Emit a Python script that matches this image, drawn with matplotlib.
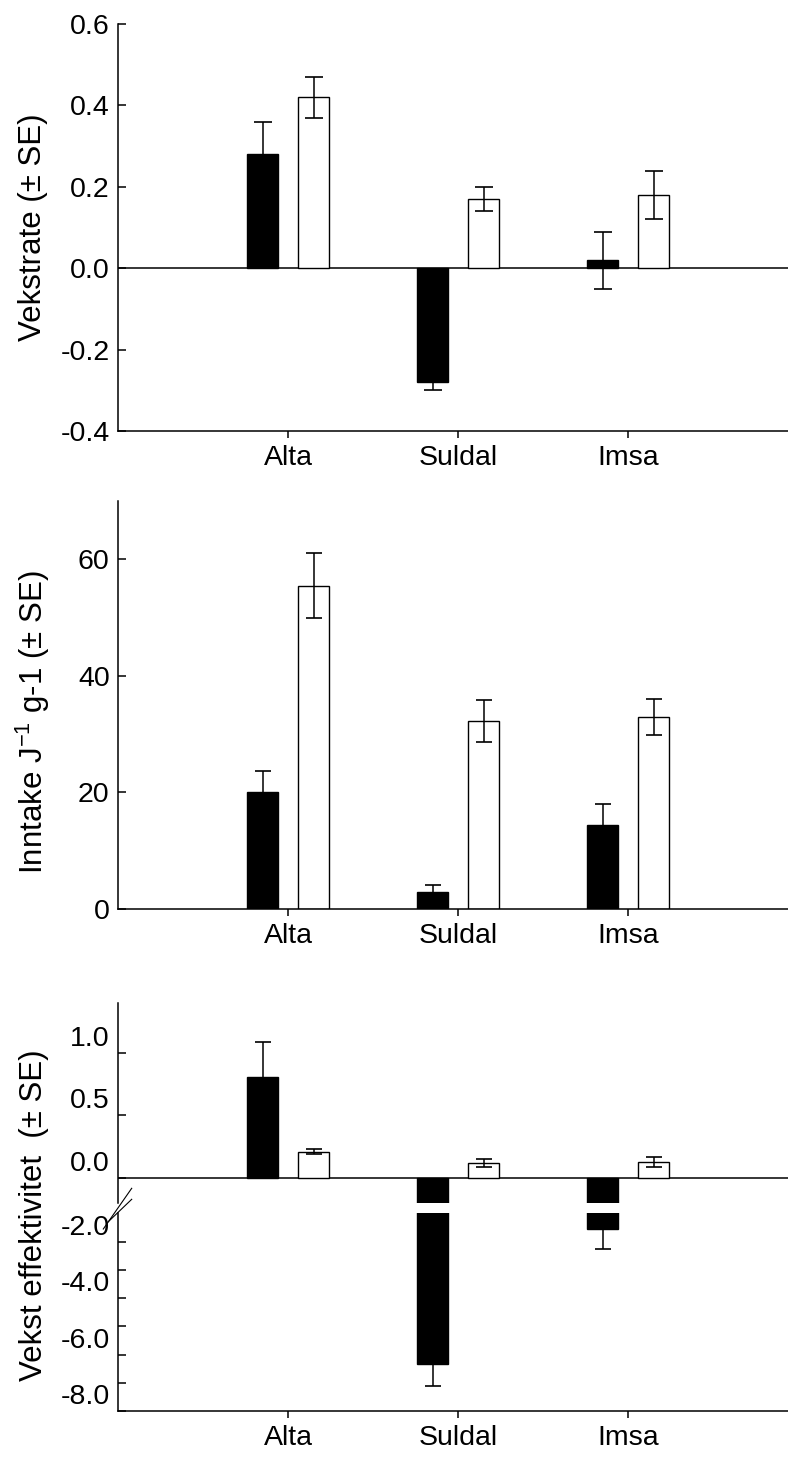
import numpy as np
import matplotlib
matplotlib.use('Agg')
import matplotlib.pyplot as plt
from matplotlib.transforms import ScaledTranslation
from matplotlib.lines import Line2D

plt.rcParams['font.family'] = ['Liberation Sans', 'DejaVu Sans']
plt.rcParams['mathtext.fontset'] = 'custom'
plt.rcParams['mathtext.rm'] = 'Liberation Sans'
plt.rcParams['mathtext.it'] = 'Liberation Sans:italic'
plt.rcParams['axes.unicode_minus'] = False

# Data
sites = ['Alta', 'Suldal', 'Imsa']

rate_black = [0.28, -0.28, 0.02]
rate_black_se = [0.08, 0.02, 0.07]
rate_white = [0.42, 0.17, 0.18]
rate_white_se = [0.05, 0.03, 0.06]

intake_black = [20.0, 3.0, 14.4]
intake_black_se = [3.7, 1.2, 3.7]
intake_white = [55.5, 32.2, 33.0]
intake_white_se = [5.5, 3.6, 3.1]

eff_black = [0.81, -6.35, -1.55]
eff_black_se = [0.28, 0.76, 0.73]
eff_white = [0.21, 0.12, 0.13]
eff_white_se = [0.02, 0.03, 0.04]

# Layout (pixels)
W, H = 788, 1459
fig = plt.figure(figsize=(W / 100, H / 100), dpi=100)


def px_axes(left, top, right, bottom):
    return fig.add_axes([left / W, 1 - bottom / H, (right - left) / W, (bottom - top) / H])


x = np.arange(1, len(sites) + 1)
off = 0.15
w = 0.18
TICK_FS = 20.5
LAB_FS = 22.5


def draw_bars(ax, black, black_se, white, white_se, capsize):
    ax.bar(x - off, black, w, color='black', edgecolor='black', linewidth=1, zorder=2)
    ax.bar(x + off, white, w, color='white', edgecolor='black', linewidth=1, zorder=2)
    ax.errorbar(x - off, black, yerr=black_se, fmt='none', ecolor='black',
                elinewidth=1.1, capsize=capsize, capthick=1.2, zorder=3)
    ax.errorbar(x + off, white, yerr=white_se, fmt='none', ecolor='black',
                elinewidth=1.1, capsize=capsize, capthick=1.2, zorder=3)


def style(ax, xlabels=True):
    for s in ['top', 'right']:
        ax.spines[s].set_visible(False)
    for s in ['left', 'bottom']:
        ax.spines[s].set_linewidth(1.1)
    ax.set_xlim(0, 4)
    ax.tick_params(axis='y', direction='in', length=6, width=1.1, pad=6, labelsize=TICK_FS)
    ax.tick_params(axis='x', direction='out', length=5, width=1.1, pad=5, labelsize=TICK_FS)
    if xlabels:
        ax.set_xticks(x, sites)
    else:
        ax.set_xticks([])


# Panel 1
ax1 = px_axes(118, 24, 798, 431)
draw_bars(ax1, rate_black, rate_black_se, rate_white, rate_white_se, 6.4)
ax1.axhline(0, color='black', lw=1.1, zorder=1)
ax1.set_ylim(-0.4, 0.6)
ax1.set_yticks(np.arange(-0.4, 0.61, 0.2))
ax1.yaxis.set_major_formatter('{x:.1f}')
style(ax1)
fig.text(33 / W, 1 - 227 / H, 'Vekstrate (± SE)', rotation=90, ha='center', va='center', fontsize=LAB_FS)

# Panel 2
ax2 = px_axes(118, 501, 798, 909)
draw_bars(ax2, intake_black, intake_black_se, intake_white, intake_white_se, 5.5)
ax2.set_ylim(0, 70)
ax2.set_yticks([0, 20, 40, 60])
style(ax2)
fig.text(33 / W, 1 - 722 / H, 'Inntake J$^{-1}$ g-1 (± SE)', rotation=90, ha='center', va='center', fontsize=LAB_FS)

# Panel 3 (broken axis)
ax3t = px_axes(118, 1003.3, 798, 1202.7)
ax3b = px_axes(118, 1213.3, 798, 1411)
for ax in (ax3t, ax3b):
    draw_bars(ax, eff_black, eff_black_se, eff_white, eff_white_se, 5.5)
ax3t.axhline(0, color='black', lw=1.1, zorder=1)
ax3t.set_ylim(-0.2, 1.4)
ax3t.set_yticks([0.0, 0.5, 1.0])
ax3t.yaxis.set_major_formatter('{x:.1f}')
style(ax3t, xlabels=False)
ax3t.spines['bottom'].set_visible(False)
ax3t.tick_params(axis='x', length=0)

ax3b.set_ylim(-8, -1)
low_ticks = np.arange(-8, -1)
ax3b.set_yticks(low_ticks, ['%.1f' % t if t % 2 == 0 else '' for t in low_ticks])
style(ax3b)

shift = ScaledTranslation(0, 17 / 100, fig.dpi_scale_trans)
for ax in (ax3t, ax3b):
    for lab in ax.get_yticklabels():
        lab.set_transform(lab.get_transform() + shift)

# break marks
for (x0, y0), (x1, y1) in [((103.3, 1229), (131.7, 1188.3)), ((108.3, 1221.7), (131.7, 1199.3))]:
    fig.add_artist(Line2D([x0 / W, x1 / W], [1 - y0 / H, 1 - y1 / H], color='black', lw=0.8,
                          transform=fig.transFigure))

fig.text(34 / W, 1 - 1215 / H, 'Vekst effektivitet  (± SE)', rotation=90, ha='center', va='center', fontsize=LAB_FS)

fig.savefig('out.png', dpi=100)
